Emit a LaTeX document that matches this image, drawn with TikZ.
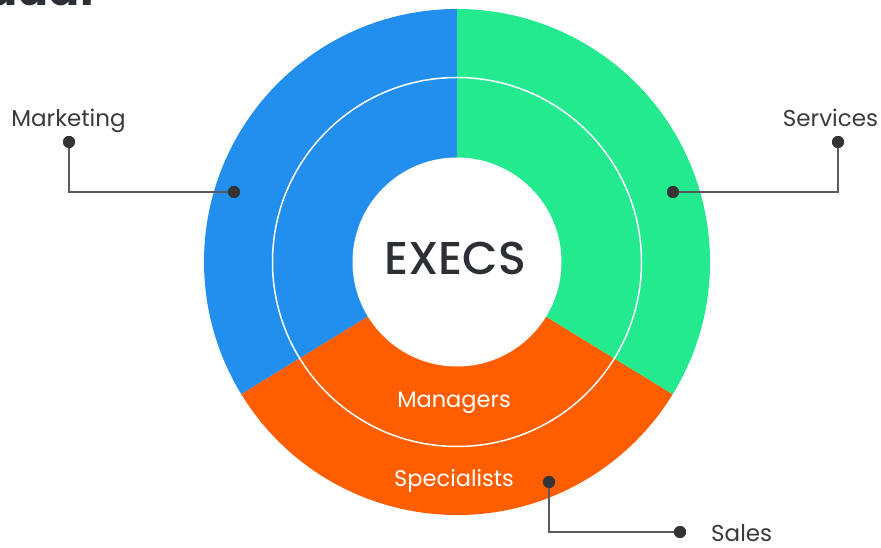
\documentclass[tikz,border=0pt]{standalone}
\usepackage{fontspec}
\setmainfont{Poppins}
\newfontfamily\popmed{Poppins Medium}
\newfontfamily\popbold{Poppins Bold}
\definecolor{cblue}{RGB}{34,143,238}
\definecolor{cgreen}{RGB}{35,233,143}
\definecolor{corange}{RGB}{255,94,0}
\definecolor{ctext}{RGB}{58,58,60}
\definecolor{cdark}{RGB}{44,47,52}
\definecolor{cline}{RGB}{90,90,92}
\definecolor{cdot}{RGB}{52,52,54}
\begin{document}
\begin{tikzpicture}[x=1pt,y=1pt,
  dotnode/.style={circle,fill=cdot,inner sep=0pt,minimum size=12pt},
  corner/.style={inner sep=0pt,minimum size=0pt},
  leader/.style={draw=cline,line width=1.3pt},
  lbl/.style={text=ctext,font=\fontsize{23}{27}\selectfont,inner sep=0pt},
  seglbl/.style={text=white,font=\fontsize{22.5}{26}\selectfont,inner sep=0pt}]
\useasboundingbox (0,0) rectangle (881,548);
\fill[white] (0,0) rectangle (881,548);
% cut-off title
\node[anchor=base east,inner sep=0pt,text=cdark,font=\popbold\fontsize{46}{50}\selectfont] (title) at (94,542) {dual};
% sectors
\coordinate (C) at (457,286);
\fill[cblue] (C) -- ++(90:253) arc[start angle=90,end angle=211.5,radius=253] -- cycle;
\fill[corange] (C) -- ++(211.5:253) arc[start angle=211.5,end angle=328.5,radius=253] -- cycle;
\fill[cgreen] (C) -- ++(328.5:253) arc[start angle=328.5,end angle=450,radius=253] -- cycle;
\draw[white,line width=1.5pt] (C) circle[radius=184.5];
\fill[white] (C) circle[radius=104.5];
% texts
\node[anchor=base,inner sep=0pt,text=cdark,font=\popmed\fontsize{46}{50}\selectfont] (execs) at (455,273) {EXECS};
\node[seglbl,anchor=base] (managers) at (454,140) {Managers};
\node[seglbl,anchor=base] (specialists) at (454,61.3) {Specialists};
\node[lbl,anchor=base] (marketing) at (68.5,421) {Marketing};
\node[lbl,anchor=base] (services) at (830.5,421) {Services};
\node[lbl,anchor=base west] (sales) at (711,6.3) {Sales};
% leaders
\node[dotnode] (m1) at (69,406) {};
\node[corner] (m2) at (69,356) {};
\node[dotnode] (m3) at (234,356) {};
\node[dotnode] (s1) at (838,406) {};
\node[corner] (s2) at (838,356) {};
\node[dotnode] (s3) at (673,356) {};
\node[dotnode] (a1) at (549,66) {};
\node[corner] (a2) at (549,16) {};
\node[dotnode] (a3) at (680,16) {};
\draw[leader] (m1.center) -- (m2.center) -- (m3.center);
\draw[leader] (s1.center) -- (s2.center) -- (s3.center);
\draw[leader] (a1.center) -- (a2.center) -- (a3.center);
\node[dotnode] at (m1) {};
\node[dotnode] at (m3) {};
\node[dotnode] at (s1) {};
\node[dotnode] at (s3) {};
\node[dotnode] at (a1) {};
\node[dotnode] at (a3) {};
\end{tikzpicture}
\end{document}
